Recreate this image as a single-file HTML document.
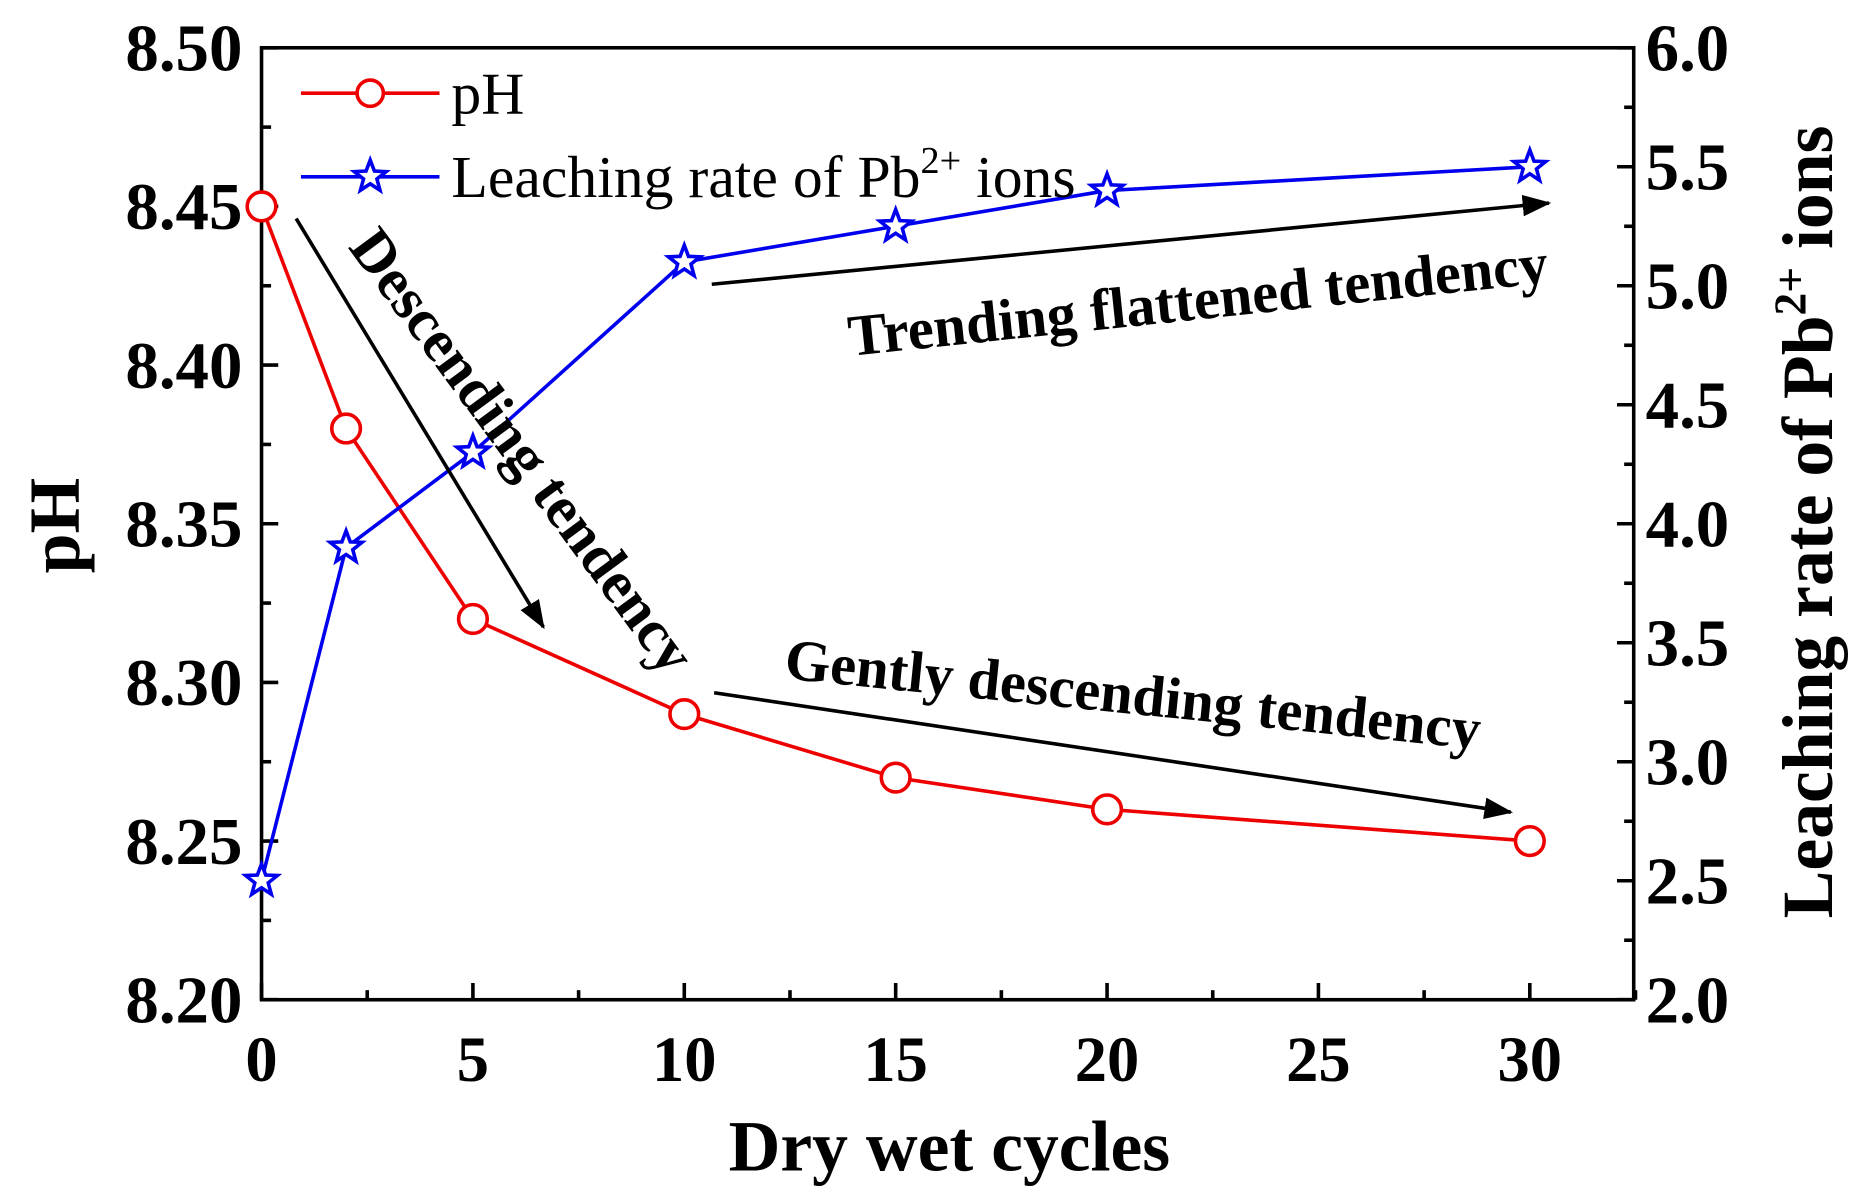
<!DOCTYPE html>
<html><head><meta charset="utf-8"><style>
html,body{margin:0;padding:0;background:#fff;}
svg{display:block;}
text{font-family:"Liberation Serif",serif;}
</style></head><body>
<svg id="chart" width="1863" height="1198" viewBox="0 0 1560 1003" preserveAspectRatio="none" xmlns="http://www.w3.org/2000/svg">
<defs><marker id="ah" markerWidth="24" markerHeight="18" refX="22" refY="9" orient="auto" markerUnits="userSpaceOnUse" viewBox="0 0 24 18"><path d="M0,0 L24,9 L0,18 z" fill="#000"/></marker></defs>
<g id="axes"></g>
<g id="marks"></g>
<g>
<line x1="248" y1="183" x2="455" y2="525" stroke="#000" stroke-width="3" marker-end="url(#ah)"/>
<line x1="596" y1="238" x2="1297" y2="170" stroke="#000" stroke-width="3" marker-end="url(#ah)"/>
<line x1="598" y1="580" x2="1265" y2="680" stroke="#000" stroke-width="3" marker-end="url(#ah)"/>
<text transform="translate(291,207) rotate(53.5)" font-size="50" font-weight="bold">Descending tendency</text>
<text transform="translate(712,298) rotate(-6)" font-size="49" font-weight="bold">Trending flattened tendency</text>
<text transform="translate(656,568) rotate(5.8)" font-size="49" font-weight="bold">Gently descending tendency</text>
</g>
<g>
<g>
<line x1="252" y1="78" x2="368" y2="78" stroke="#e00" stroke-width="3"/>
<circle cx="310" cy="78" r="11" fill="#fff" stroke="#e00" stroke-width="3"/>
<text x="378" y="95" font-size="50">pH</text></g>
<g>
<line x1="252" y1="148" x2="368" y2="148" stroke="#00e" stroke-width="3"/>
<path id="legstar" fill="#fff" stroke="#00e" stroke-width="3"/>
<text x="378" y="165" font-size="50">Leaching rate of Pb<tspan dy="-20" font-size="32">2+</tspan><tspan dy="20"> ions</tspan></text></g>
</g>
<text x="795" y="980" font-size="60" font-weight="bold" text-anchor="middle">Dry wet cycles</text>
<text transform="translate(66,440) rotate(-90)" font-size="60" font-weight="bold" text-anchor="middle">pH</text>
<text transform="translate(1534,437) rotate(-90)" font-size="60" font-weight="bold" text-anchor="middle">Leaching rate of Pb<tspan dy="-22" font-size="38">2+</tspan><tspan dy="22"> ions</tspan></text>
</svg>
<script>
const cycles=[0,2,5,10,15,20,30];
const phValues=[8.45,8.38,8.32,8.29,8.27,8.26,8.25];
const pbValues=[2.5,3.9,4.3,5.1,5.25,5.4,5.5];
const xTicks=[0,5,10,15,20,25,30];
const yLeftTicks=["8.20","8.25","8.30","8.35","8.40","8.45","8.50"];
const yRightTicks=["2.0","2.5","3.0","3.5","4.0","4.5","5.0","5.5","6.0"];

const L=219,R=1368,T=40,B=837;
const sx=v=>L+(v)/30*(1281-L);
const syL=v=>B-(v-8.2)/0.3*(B-T);
const syR=v=>B-(v-2)/4*(B-T);
const NS="http://www.w3.org/2000/svg";
function mk(tag,attrs,parent){const e=document.createElementNS(NS,tag);for(const k in attrs)e.setAttribute(k,attrs[k]);parent.appendChild(e);return e;}
function star(cx,cy,r){let p="";for(let i=0;i<10;i++){const a=-Math.PI/2+i*Math.PI/5;const rr=i%2?r*0.42:r;p+=(i?"L":"M")+(cx+rr*Math.cos(a)).toFixed(1)+","+(cy+rr*Math.sin(a)).toFixed(1);}return p+"Z";}
document.getElementById('legstar').setAttribute('d',star(310,148,14));
const ax=document.getElementById('axes');
const frame=mk('rect',{x:L,y:T,width:R-L,height:B-T,fill:'none',stroke:'#000','stroke-width':3},ax);


for(let v=0;v<=32.5;v+=2.5){const x=sx(v);const major=v%5===0;mk('line',{x1:x,y1:B,x2:x,y2:B-(major?14:8),stroke:'#000','stroke-width':3},ax);}
xTicks.forEach(v=>{const t=mk('text',{x:sx(v),y:B+68,'font-size':54,'font-weight':'bold','text-anchor':'middle'},ax);t.textContent=v;

});
for(let i=0;i<=12;i++){const v=8.2+i*0.025;const y=syL(v);mk('line',{x1:L,y1:y,x2:L+(i%2?8:14),y2:y,stroke:'#000','stroke-width':3},ax);}
yLeftTicks.forEach(s=>{const t=mk('text',{x:L-16,y:syL(+s)+19,'font-size':56,'font-weight':'bold','text-anchor':'end'},ax);t.textContent=s;

});
for(let i=0;i<=16;i++){const v=2+i*0.25;const y=syR(v);mk('line',{x1:R,y1:y,x2:R-(i%2?8:14),y2:y,stroke:'#000','stroke-width':3},ax);}
yRightTicks.forEach(s=>{const t=mk('text',{x:R+10,y:syR(+s)+19,'font-size':56,'font-weight':'bold'},ax);t.textContent=s;

});
const mg=document.getElementById('marks');
const phLine=mk('polyline',{points:cycles.map((c,i)=>sx(c)+","+syL(phValues[i])).join(" "),fill:'none',stroke:'#e00','stroke-width':3},mg);


const pbLine=mk('polyline',{points:cycles.map((c,i)=>sx(c)+","+syR(pbValues[i])).join(" "),fill:'none',stroke:'#00e','stroke-width':3},mg);


cycles.forEach((c,i)=>{const p=mk('circle',{cx:sx(c),cy:syL(phValues[i]),r:12,fill:'#fff',stroke:'#e00','stroke-width':3},mg);

});
cycles.forEach((c,i)=>{const p=mk('path',{d:star(sx(c),syR(pbValues[i]),14),fill:'#fff',stroke:'#00e','stroke-width':3},mg);

});
</script>
</body></html>
